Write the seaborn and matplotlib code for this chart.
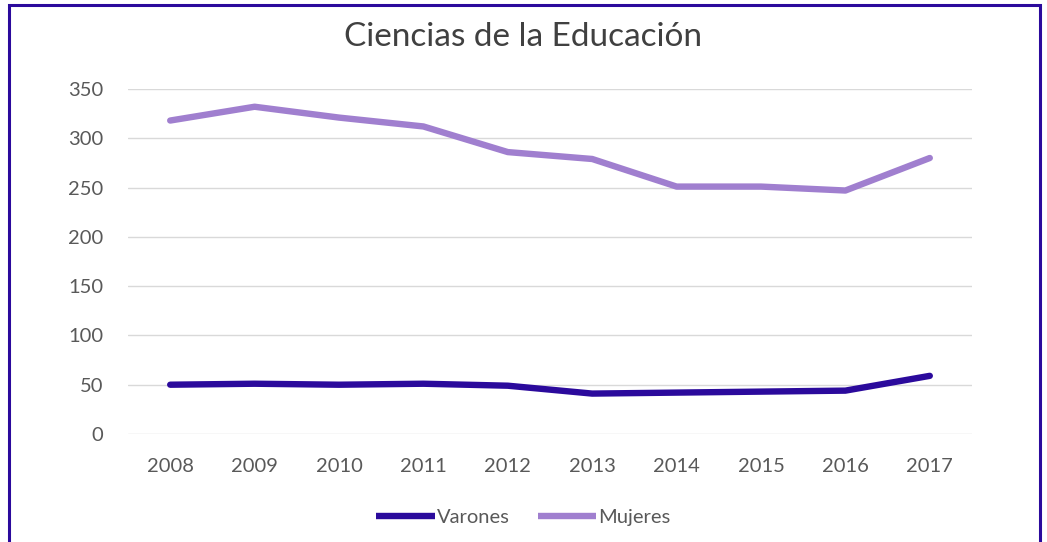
import pandas as pd
import matplotlib.pyplot as plt
import seaborn as sns
from matplotlib.patches import Rectangle

# Daten
anios = [2008, 2009, 2010, 2011, 2012, 2013, 2014, 2015, 2016, 2017]
varones = [50, 51, 50, 51, 49, 41, 42, 43, 44, 59]
mujeres = [318, 332, 321, 312, 286, 279, 251, 251, 247, 280]
yticks = [0, 50, 100, 150, 200, 250, 300, 350]

df = pd.DataFrame({
    'anio': anios * 2,
    'valor': varones + mujeres,
    'serie': ['Varones'] * len(anios) + ['Mujeres'] * len(anios),
})

sns.set_style('white')
plt.rcParams['font.family'] = ['Lato', 'DejaVu Sans']

fig = plt.figure(figsize=(10.47, 5.42), dpi=100)
ax = fig.add_axes([128 / 1047, 1 - 434 / 542, (972 - 128) / 1047, (434 - 89) / 542])

sns.lineplot(data=df, x='anio', y='valor', hue='serie',
             palette={'Varones': '#2b0a9c', 'Mujeres': '#a07fcf'},
             linewidth=4.6, ax=ax, legend=True)
for ln in ax.lines:
    ln.set_solid_capstyle('round')

ax.set_xlim(2007.5, 2017.5)
ax.set_ylim(0, 350)
ax.set_xticks(anios)
ax.set_yticks(yticks)
ax.yaxis.grid(True, color='#d9d9d9', linewidth=1)
ax.xaxis.grid(False)
for s in ax.spines.values():
    s.set_visible(False)
ax.tick_params(axis='both', length=0, labelsize=14.5, labelcolor='#595959')
ax.tick_params(axis='x', pad=17)
ax.tick_params(axis='y', pad=18)
ax.set_xlabel('')
ax.set_ylabel('')

fig.text(0.5, 1 - 37 / 542, 'Ciencias de la Educación', ha='center', va='center',
         fontsize=24, color='#404040')

handles, labels = ax.get_legend_handles_labels()
for h in handles:
    h.set_solid_capstyle('butt')
ax.legend(handles, labels, loc='center', bbox_to_anchor=(0.5, 1 - 517 / 542),
          bbox_transform=fig.transFigure, ncol=2, frameon=False,
          fontsize=14.5, labelcolor='#595959', handlelength=2.9,
          handletextpad=0.1, columnspacing=1.4)

# Rahmen
fig.patches.append(Rectangle((9 / 1047, -0.05), (1040 - 9) / 1047, 1.05 - 5 / 542,
                             transform=fig.transFigure, fill=False,
                             edgecolor='#2b0a9c', linewidth=2.2))

fig.savefig('out.png', dpi=100)
